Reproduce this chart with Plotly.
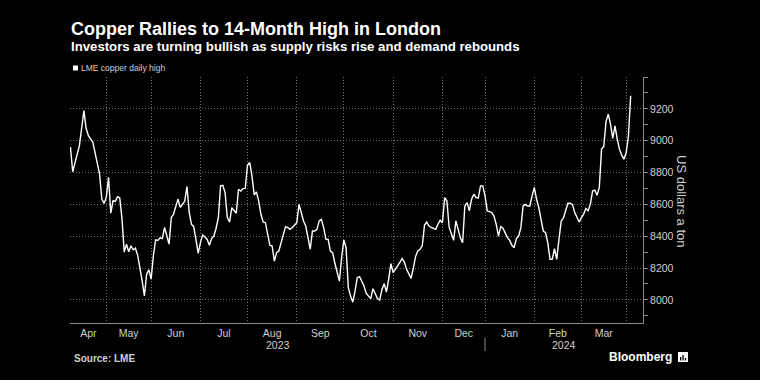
import numpy as np
import plotly.graph_objects as go

# ---------------- data ----------------
HOLIDAYS = ["2023-04-07", "2023-04-10", "2023-05-01", "2023-05-08", "2023-05-29",
            "2023-08-28", "2023-12-25", "2023-12-26", "2024-01-01", "2024-03-29",
            "2024-04-01"]
START = "2023-04-05"

dates = [
    "2023-04-05", "2023-04-06", "2023-04-13", "2023-04-17", "2023-04-18", "2023-04-19",
    "2023-04-21", "2023-04-25", "2023-04-26", "2023-04-27", "2023-04-28",
    "2023-05-02", "2023-05-03", "2023-05-04", "2023-05-05", "2023-05-09", "2023-05-10",
    "2023-05-11", "2023-05-12", "2023-05-15", "2023-05-16", "2023-05-17", "2023-05-18",
    "2023-05-19", "2023-05-22", "2023-05-23", "2023-05-24", "2023-05-25", "2023-05-26",
    "2023-05-30", "2023-05-31",
    "2023-06-01", "2023-06-02", "2023-06-05", "2023-06-06", "2023-06-07", "2023-06-08",
    "2023-06-09", "2023-06-13", "2023-06-14", "2023-06-15", "2023-06-19", "2023-06-20",
    "2023-06-21", "2023-06-22", "2023-06-23", "2023-06-26", "2023-06-27", "2023-06-28",
    "2023-06-29", "2023-06-30",
    "2023-07-03", "2023-07-04", "2023-07-05", "2023-07-06", "2023-07-07", "2023-07-10",
    "2023-07-11", "2023-07-12", "2023-07-13", "2023-07-14", "2023-07-17", "2023-07-18",
    "2023-07-19", "2023-07-20", "2023-07-21", "2023-07-24", "2023-07-25", "2023-07-26",
    "2023-07-27", "2023-07-28", "2023-07-31",
    "2023-08-01", "2023-08-02", "2023-08-03", "2023-08-04", "2023-08-07", "2023-08-08",
    "2023-08-09", "2023-08-10", "2023-08-11", "2023-08-14", "2023-08-15", "2023-08-16",
    "2023-08-17", "2023-08-18", "2023-08-21", "2023-08-22", "2023-08-23", "2023-08-24",
    "2023-08-25", "2023-08-29", "2023-08-30", "2023-08-31",
    "2023-09-01", "2023-09-04", "2023-09-05", "2023-09-06", "2023-09-07", "2023-09-08",
    "2023-09-11", "2023-09-12", "2023-09-13", "2023-09-14", "2023-09-15", "2023-09-18",
    "2023-09-19", "2023-09-20", "2023-09-21", "2023-09-22", "2023-09-25", "2023-09-26",
    "2023-09-27", "2023-09-28", "2023-09-29",
    "2023-10-02", "2023-10-03", "2023-10-04", "2023-10-05", "2023-10-06", "2023-10-09",
    "2023-10-10", "2023-10-11", "2023-10-12", "2023-10-13", "2023-10-16", "2023-10-17",
    "2023-10-18", "2023-10-19", "2023-10-20", "2023-10-23", "2023-10-24", "2023-10-25",
    "2023-10-26", "2023-10-27", "2023-10-30", "2023-10-31",
    "2023-11-01", "2023-11-02", "2023-11-03", "2023-11-06", "2023-11-07", "2023-11-08",
    "2023-11-09", "2023-11-10", "2023-11-13", "2023-11-14", "2023-11-15", "2023-11-16",
    "2023-11-17", "2023-11-20", "2023-11-21", "2023-11-22", "2023-11-23", "2023-11-24",
    "2023-11-27", "2023-11-28", "2023-11-29", "2023-11-30",
    "2023-12-01", "2023-12-04", "2023-12-05", "2023-12-06", "2023-12-07", "2023-12-08",
    "2023-12-11", "2023-12-12", "2023-12-13", "2023-12-14", "2023-12-15", "2023-12-18",
    "2023-12-19", "2023-12-20", "2023-12-21", "2023-12-22", "2023-12-27", "2023-12-28",
    "2023-12-29",
    "2024-01-02", "2024-01-03", "2024-01-04", "2024-01-05", "2024-01-08", "2024-01-09",
    "2024-01-10", "2024-01-11", "2024-01-12", "2024-01-15", "2024-01-16", "2024-01-17",
    "2024-01-18", "2024-01-19", "2024-01-22", "2024-01-23", "2024-01-24", "2024-01-25",
    "2024-01-26", "2024-01-29", "2024-01-30", "2024-01-31",
    "2024-02-01", "2024-02-02", "2024-02-05", "2024-02-06", "2024-02-07", "2024-02-08",
    "2024-02-09", "2024-02-12", "2024-02-13", "2024-02-14", "2024-02-15", "2024-02-16",
    "2024-02-19", "2024-02-20", "2024-02-21", "2024-02-22", "2024-02-23", "2024-02-26",
    "2024-02-27", "2024-02-28", "2024-02-29",
    "2024-03-01", "2024-03-04", "2024-03-05", "2024-03-06", "2024-03-07", "2024-03-08",
    "2024-03-11", "2024-03-12", "2024-03-13", "2024-03-14", "2024-03-15", "2024-03-18",
    "2024-03-19", "2024-03-20", "2024-03-21", "2024-03-22", "2024-03-25", "2024-03-26",
    "2024-03-27", "2024-03-28",
    "2024-04-02", "2024-04-03", "2024-04-04",
]

values = [
    8960, 8805, 8969, 9189, 9078, 9032,
    8990, 8864, 8790, 8633, 8606,
    8644, 8770, 8545, 8623, 8619, 8648,
    8640, 8510, 8300, 8350, 8302, 8340,
    8315, 8325, 8280, 8210, 8120, 8025,
    8161, 8189,
    8130, 8277, 8377, 8374, 8390, 8385,
    8455, 8350, 8518, 8539, 8633, 8581,
    8600, 8620, 8712, 8550, 8475, 8460,
    8380, 8292,
    8360, 8408, 8395, 8380, 8343, 8385,
    8401, 8450, 8517, 8716, 8720, 8674,
    8517, 8489, 8580, 8565, 8544, 8695,
    8684, 8699, 8700,
    8846, 8863, 8779, 8660, 8678, 8621,
    8538, 8489, 8485, 8401, 8343, 8338,
    8244, 8297, 8307, 8360, 8410, 8460,
    8454, 8443, 8455, 8469,
    8485, 8600, 8538, 8496, 8464, 8390,
    8318, 8433, 8433, 8443, 8496, 8506,
    8454, 8380, 8380, 8307, 8297, 8230,
    8180, 8118, 8265,
    8376, 8328, 8077, 8024, 7986, 8055,
    8140, 8146, 8118, 8087, 8041, 8024,
    8008, 8070, 8041, 8008, 7999, 8066,
    8102, 8049, 8129, 8228,
    8171, 8192, 8209, 8235, 8260, 8238,
    8192, 8165, 8135, 8200, 8272, 8307,
    8318, 8340, 8470, 8489, 8464, 8455,
    8448, 8443, 8475, 8500,
    8485, 8643, 8621, 8455, 8415, 8374,
    8496, 8433, 8390, 8360, 8590, 8611,
    8559, 8632, 8664, 8643, 8640, 8716,
    8716,
    8653, 8559, 8555, 8548, 8527, 8475,
    8401, 8460, 8450, 8420, 8391, 8374,
    8343, 8328, 8385, 8401, 8454, 8590,
    8600, 8590, 8590, 8653,
    8706, 8632, 8580, 8506, 8433, 8423,
    8360, 8255, 8255, 8322, 8255, 8380,
    8496, 8515, 8570, 8607, 8607, 8600,
    8550, 8517, 8489,
    8517, 8538, 8574, 8560, 8600, 8684,
    8690, 8657, 8706, 8947, 8963, 9120,
    9167, 9104, 9014, 9093, 9010, 8947,
    8909, 8884,
    8926, 9030, 9282,
]

month_starts = ["2023-05-01", "2023-06-01", "2023-07-01", "2023-08-01", "2023-09-01",
                "2023-10-01", "2023-11-01", "2023-12-01", "2024-01-01", "2024-02-01",
                "2024-03-01", "2024-04-01"]
month_labels = ["Apr", "May", "Jun", "Jul", "Aug", "Sep", "Oct", "Nov", "Dec",
                "Jan", "Feb", "Mar"]
year_labels = ["2023", "2024"]
y_ticks = [8000, 8200, 8400, 8600, 8800, 9000, 9200, 9400]
y_ticklabels = ["8000", "8200", "8400", "8600", "8800", "9000", "9200", ""]
y_minor = [7900, 8100, 8300, 8500, 8700, 8900, 9100, 9300]

# ------------- trading-day scale -------------
def tday(d):
    return int(np.busday_count(START, d, holidays=HOLIDAYS))

x = [tday(d) for d in dates]
first_days = [str(np.busday_offset(m, 0, roll="forward", holidays=HOLIDAYS)) for m in month_starts]
grid_x = [tday(d) for d in first_days]
X_END = 255.5
bounds = [0] + grid_x
label_x = [(bounds[i] + bounds[i + 1]) / 2 for i in range(len(month_labels))]
jan_x = grid_x[month_starts.index("2024-01-01")]
year_x = [(0 + jan_x) / 2, (jan_x + X_END) / 2]

# ------------- layout helpers (pixels -> paper) -------------
L, R, T, B = 70, 643, 77, 323
def px(v):
    return (v - L) / (R - L)
def py(v):
    return (B - v) / (B - T)

FONT = "Liberation Sans, Arial, sans-serif"
GRID = "#6e6e6e"
DOT = "1px,2px"
AXIS = "#8a8a8a"
TXT = "#cfcfcf"

fig = go.Figure()
fig.add_trace(go.Scatter(x=x, y=values, mode="lines",
                         line=dict(color="white", width=1.4),
                         hoverinfo="skip", showlegend=False))

fig.update_layout(
    width=760, height=380,
    margin=dict(l=L, r=760 - R, t=T, b=380 - B),
    paper_bgcolor="black", plot_bgcolor="black",
    showlegend=False,
    font=dict(family=FONT, color=TXT),
    xaxis=dict(
        range=[-0.2, X_END], tickmode="array", tickvals=label_x, ticktext=month_labels,
        ticks="", showgrid=False, zeroline=False,
        showline=True, linecolor=AXIS, linewidth=1,
        tickfont=dict(size=10.5, color=TXT, family=FONT),
        minor=dict(tickmode="array", tickvals=grid_x, ticks="", showgrid=True,
                   gridcolor=GRID, griddash=DOT, gridwidth=1),
    ),
    yaxis=dict(
        side="right", range=[7855, 9400], tickmode="array",
        tickvals=y_ticks, ticktext=y_ticklabels,
        ticks="outside", ticklen=4, tickcolor=AXIS, tickwidth=1,
        showline=True, linecolor=AXIS, linewidth=1, zeroline=False,
        showgrid=True, gridcolor=GRID, griddash=DOT, gridwidth=1,
        tickfont=dict(size=10.5, color=TXT, family=FONT),
        minor=dict(tickmode="array", tickvals=y_minor, ticks="outside", ticklen=4,
                   tickcolor=AXIS, tickwidth=1, showgrid=False),
    ),
)

ann = []
ann.append(dict(text="<b>Copper Rallies to 14-Month High in London</b>", x=px(69), y=py(29),
                xref="paper", yref="paper", xanchor="left", yanchor="middle", showarrow=False,
                font=dict(size=18, color="white", family=FONT)))
ann.append(dict(text="<b>Investors are turning bullish as supply risks rise and demand rebounds</b>",
                x=px(69), y=py(47), xref="paper", yref="paper", xanchor="left",
                yanchor="middle", showarrow=False,
                font=dict(size=13.2, color="white", family=FONT)))
ann.append(dict(text="LME copper daily high", x=px(79), y=py(68), xref="paper", yref="paper",
                xanchor="left", yanchor="middle", showarrow=False,
                font=dict(size=8.5, color=TXT, family=FONT)))
ann.append(dict(text="US dollars a ton", x=px(682), y=py(201), xref="paper", yref="paper",
                xanchor="center", yanchor="middle", textangle=90, showarrow=False,
                font=dict(size=13, color=TXT, family=FONT)))
for yl, xv in zip(year_labels, year_x):
    ann.append(dict(text=yl, x=xv, y=py(345), xref="x", yref="paper", xanchor="center",
                    yanchor="middle", showarrow=False,
                    font=dict(size=10.5, color=TXT, family=FONT)))
ann.append(dict(text="<b>Source: LME</b>", x=px(72), y=py(358), xref="paper", yref="paper",
                xanchor="left", yanchor="middle", showarrow=False,
                font=dict(size=10, color=TXT, family=FONT)))
ann.append(dict(text="<b>Bloomberg</b>", x=px(674), y=py(357), xref="paper", yref="paper",
                xanchor="right", yanchor="middle", showarrow=False,
                font=dict(size=12, color="white", family=FONT)))
fig.update_layout(annotations=ann)

shapes = []
# legend square
shapes.append(dict(type="rect", xref="paper", yref="paper", x0=px(73), x1=px(78),
                   y0=py(70.5), y1=py(65.5), fillcolor="white", line=dict(width=0)))
# year divider
shapes.append(dict(type="line", xref="x", yref="paper", x0=jan_x, x1=jan_x,
                   y0=py(338), y1=py(351), line=dict(color=AXIS, width=1)))
# Bloomberg icon
shapes.append(dict(type="rect", xref="paper", yref="paper", x0=px(678), x1=px(688),
                   y0=py(362), y1=py(352), fillcolor="white", line=dict(width=0)))
for bx0, bx1, btop in [(680, 681.3, 357), (682.4, 683.7, 355), (684.8, 686.1, 358)]:
    shapes.append(dict(type="rect", xref="paper", yref="paper", x0=px(bx0), x1=px(bx1),
                       y0=py(360.5), y1=py(btop), fillcolor="black", line=dict(width=0)))
fig.update_layout(shapes=shapes)

fig.write_html("out.html", config={"displayModeBar": False},
               post_script="document.body.style.margin='0';document.body.style.background='black';")
